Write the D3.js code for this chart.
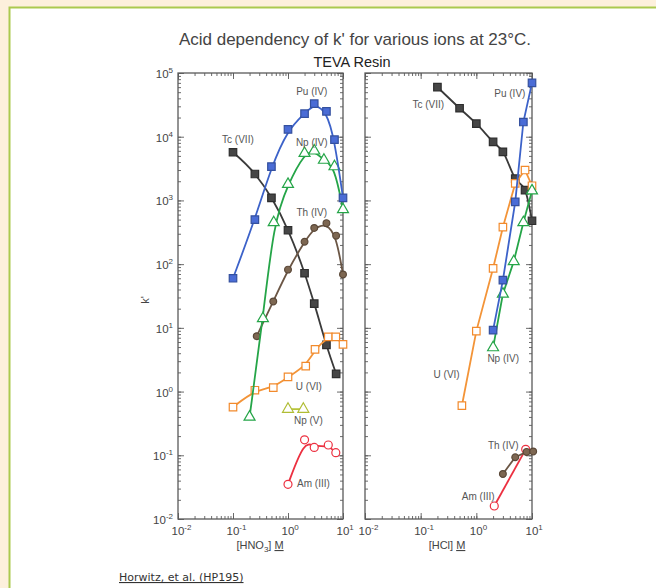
<!doctype html>
<html>
<head>
    <style>
        body { margin: 0; }
        svg { display: block; font-family: "Liberation Sans", Arial, sans-serif; }
        .frame { fill: none; stroke: #5a5a5a; stroke-width: 1.3; }
        .tick line { stroke: #5a5a5a; }
        .domain { display: none; }
        .lbl { font-size: 10px; fill: #555; text-anchor: middle; }
    </style>
    <script src="https://d3js.org/d3.v7.min.js"></script>
</head>
<body>
    <svg width="656" height="588"></svg>
    <script>
        // ---- data: [acid molarity, k'] ----
        var hno3Pu  = [[0.1, 60], [0.25, 500], [0.5, 3400], [1, 13000], [2, 23000], [3, 33000], [5, 25000], [7, 9000], [10, 1100]];
        var hno3NpIV = [[0.2, 0.4], [0.35, 14], [0.55, 450], [1, 1800], [2, 5500], [3, 6000], [4.5, 4300], [7, 3400], [10, 720]];
        var hno3Tc  = [[0.1, 5700], [0.25, 2600], [0.5, 1100], [1, 340], [2, 72], [3, 24], [5, 5.4], [7.5, 1.9]];
        var hno3Th  = [[0.27, 7.4], [0.54, 26], [1, 82], [2, 225], [3, 370], [5, 440], [7.5, 280], [10, 69]];
        var hno3U   = [[0.1, 0.57], [0.25, 1.05], [0.54, 1.15], [1, 1.7], [2.1, 2.5], [3.1, 4.6], [5.4, 7.2], [7.4, 7.2], [10, 5.5]];
        var hno3NpV = [[1, 0.53], [1.9, 0.53]];
        var hno3Am  = [[1, 0.035], [2, 0.175], [3, 0.133], [5.4, 0.145], [7.4, 0.11]];

        var hclTc   = [[0.2, 60000], [0.5, 28000], [1, 16000], [2, 8300], [3, 5800], [5, 2200], [7.5, 1450], [10, 480]];
        var hclPu   = [[2, 9.2], [3, 56], [5, 950], [7, 17000], [10, 70000]];
        var hclNpIV = [[2, 4.9], [3, 34], [4.7, 110], [7, 450], [10, 1420]];
        var hclU    = [[0.55, 0.6], [1, 8.9], [2, 86], [3, 380], [5, 1850], [7.5, 3000], [10, 1700]];
        var hclTh   = [[3, 0.051], [5, 0.093], [8, 0.113], [10.5, 0.115]];
        var hclAm   = [[2.1, 0.016], [7.7, 0.124]];

        var majorExps = [-2, -1, 0, 1, 2, 3, 4, 5];

        var hno3Labels = [
            ["Pu (IV)", 2.7, 51000], ["Np (IV)", 2.7, 8050], ["Tc (VII)", 0.123, 9200],
            ["Th (IV)", 2.7, 640], ["U (VI)", 2.4, 1.22], ["Np (V)", 2.35, 0.357], ["Am (III)", 2.9, 0.036]
        ];
        var hclLabels = [
            ["Tc (VII)", 0.137, 32300], ["Pu (IV)", 4.0, 48000], ["Np (IV)", 3.04, 3.3],
            ["U (VI)", 0.293, 1.86], ["Th (IV)", 3.04, 0.145], ["Am (III)", 1.08, 0.0223]
        ];

        var styles = {
            Pu:   { line: "#3c62c9", fill: "#4a6cd6", stroke: "#34509e", shape: "square" },
            NpIV: { line: "#25a548", fill: "#fff", stroke: "#25a548", shape: "triangle" },
            Tc:   { line: "#3a3a3a", fill: "#464646", stroke: "#2e2e2e", shape: "square" },
            Th:   { line: "#6b5645", fill: "#7d6752", stroke: "#5a4838", shape: "circle" },
            U:    { line: "#f39438", fill: "#fff", stroke: "#f28a2c", shape: "square" },
            NpV:  { line: "#b8c43a", fill: "#fff", stroke: "#b0bd34", shape: "triangle" },
            Am:   { line: "#ec3040", fill: "#fff", stroke: "#ec3040", shape: "circle" }
        };

        var svg = d3.select("svg");

        // page background and the framed sheet
        svg.append("rect").attr("width", 656).attr("height", 588).attr("fill", "#fdf0dc");
        svg.append("rect").attr("x", 9.5).attr("y", 7.5).attr("width", 680).attr("height", 620)
           .attr("fill", "#fff").attr("stroke", "#abc94f").attr("stroke-width", 2);

        var y = d3.scaleLog().domain([1e-2, 1e5]).range([519, 73]);
        var xL = d3.scaleLog().domain([1e-2, 1e1]).range([178, 343]);
        var xR = d3.scaleLog().domain([1e-2, 1e1]).range([365, 532]);

        function supLabel(text, exp) {
            text.append("tspan").text("10");
            text.append("tspan").attr("dy", -5).attr("font-size", "8px").text(exp < 0 ? "-" + (-exp) : exp);
        }

        function drawPanel(x, showYLabels) {
            var g = svg.append("g");
            var x0 = x.range()[0], x1 = x.range()[1];
            var y0 = y.range()[0], y1 = y.range()[1];
            var xMinor = x.ticks(), yMinor = y.ticks();
            var xMajor = majorExps.slice(0, 4).map(function(e) { return Math.pow(10, e); });
            var yMajor = majorExps.map(function(e) { return Math.pow(10, e); });

            // inward ticks on all four sides
            [[d3.axisBottom(x), y0, 0], [d3.axisTop(x), y1, 0]].forEach(function(a) {
                g.append("g").attr("transform", "translate(0," + a[1] + ")")
                 .call(a[0].tickValues(xMinor).tickSize(-3).tickFormat(""));
                g.append("g").attr("transform", "translate(0," + a[1] + ")")
                 .call(a[0].tickValues(xMajor).tickSize(-6).tickFormat(""));
            });
            [[d3.axisLeft(y), x0], [d3.axisRight(y), x1]].forEach(function(a) {
                g.append("g").attr("transform", "translate(" + a[1] + ",0)")
                 .call(a[0].tickValues(yMinor).tickSize(-3).tickFormat(""));
                g.append("g").attr("transform", "translate(" + a[1] + ",0)")
                 .call(a[0].tickValues(yMajor).tickSize(-6).tickFormat(""));
            });
            g.selectAll(".tick line").attr("stroke-width", 0.9);

            g.append("rect").attr("class", "frame")
             .attr("x", x0).attr("y", y1).attr("width", x1 - x0).attr("height", y0 - y1);

            xMajor.forEach(function(v, i) {
                var t = g.append("text").attr("x", x(v) - 6.5).attr("y", 535)
                         .attr("font-size", "11.5px").attr("fill", "#444");
                supLabel(t, majorExps[i]);
            });
            if (showYLabels) {
                yMajor.forEach(function(v, i) {
                    var t = g.append("text").attr("x", x0 - 5).attr("y", y(v) + 5)
                             .attr("text-anchor", "end").attr("font-size", "11.5px").attr("fill", "#444");
                    supLabel(t, majorExps[i]);
                });
            }
            return g;
        }

        function drawSeries(g, x, data, st, curve) {
            var line = d3.line()
                .x(function(d) { return x(d[0]); })
                .y(function(d) { return y(d[1]); })
                .curve(curve);
            g.append("path").datum(data)
             .attr("d", line).attr("fill", "none")
             .attr("stroke", st.line).attr("stroke-width", 1.8);

            var sym = st.shape === "square" ? d3.symbolSquare : st.shape === "triangle" ? d3.symbolTriangle : d3.symbolCircle;
            var size = st.shape === "square" ? 56 : st.shape === "triangle" ? 52 : (st.fill === "#fff" ? 50 : 36);
            g.selectAll(null).data(data).enter().append("path")
             .attr("transform", function(d) { return "translate(" + x(d[0]) + "," + y(d[1]) + ")"; })
             .attr("d", d3.symbol().type(sym).size(size))
             .attr("fill", st.fill).attr("stroke", st.stroke).attr("stroke-width", 1.2);
        }

        function drawLabels(g, x, labels) {
            g.selectAll(null).data(labels).enter().append("text")
             .attr("class", "lbl")
             .attr("x", function(d) { return x(d[1]); })
             .attr("y", function(d) { return y(d[2]) + 3.5; })
             .text(function(d) { return d[0]; });
        }

        var left = drawPanel(xL, true);
        var fit = d3.curveBasis;
        drawSeries(left, xL, hno3Tc, styles.Tc, d3.curveMonotoneX);
        drawSeries(left, xL, hno3Th, styles.Th, fit);
        drawSeries(left, xL, hno3U, styles.U, fit);
        drawSeries(left, xL, hno3NpV, styles.NpV, d3.curveLinear);
        drawSeries(left, xL, hno3Am, styles.Am, fit);
        drawSeries(left, xL, hno3NpIV, styles.NpIV, fit);
        drawSeries(left, xL, hno3Pu, styles.Pu, fit);
        drawLabels(left, xL, hno3Labels);

        var right = drawPanel(xR, false);
        drawSeries(right, xR, hclTc, styles.Tc, d3.curveMonotoneX);
        drawSeries(right, xR, hclU, styles.U, d3.curveLinear);
        drawSeries(right, xR, hclNpIV, styles.NpIV, d3.curveLinear);
        drawSeries(right, xR, hclPu, styles.Pu, d3.curveLinear);
        drawSeries(right, xR, hclAm, styles.Am, d3.curveLinear);
        drawSeries(right, xR, hclTh, styles.Th, d3.curveLinear);
        drawLabels(right, xR, hclLabels);

        // titles
        svg.append("text").attr("x", 355).attr("y", 45).attr("text-anchor", "middle")
           .attr("font-size", "17px").attr("fill", "#444")
           .text("Acid dependency of k' for various ions at 23°C.");
        svg.append("text").attr("x", 352).attr("y", 67).attr("text-anchor", "middle")
           .attr("font-size", "14.5px").attr("fill", "#222")
           .text("TEVA Resin");

        // axis titles
        svg.append("text").attr("transform", "translate(149,300) rotate(-90)")
           .attr("text-anchor", "middle").attr("font-size", "11px").attr("fill", "#444")
           .text("k'");

        var hno3 = svg.append("text").attr("x", 260).attr("y", 549).attr("text-anchor", "middle")
           .attr("font-size", "11px").attr("fill", "#444");
        hno3.append("tspan").text("[HNO");
        hno3.append("tspan").attr("font-size", "8px").attr("dy", 3).text("3");
        hno3.append("tspan").attr("dy", -3).text("] ");
        hno3.append("tspan").attr("text-decoration", "underline").text("M");

        var hcl = svg.append("text").attr("x", 447).attr("y", 549).attr("text-anchor", "middle")
           .attr("font-size", "11px").attr("fill", "#444");
        hcl.append("tspan").text("[HCl] ");
        hcl.append("tspan").attr("text-decoration", "underline").text("M");

        svg.append("text").attr("x", 119).attr("y", 581)
           .attr("font-family", "DejaVu Sans").attr("font-size", "11px").attr("fill", "#333")
           .attr("text-decoration", "underline")
           .text("Horwitz, et al. (HP195)");
    </script>
</body>
</html>
